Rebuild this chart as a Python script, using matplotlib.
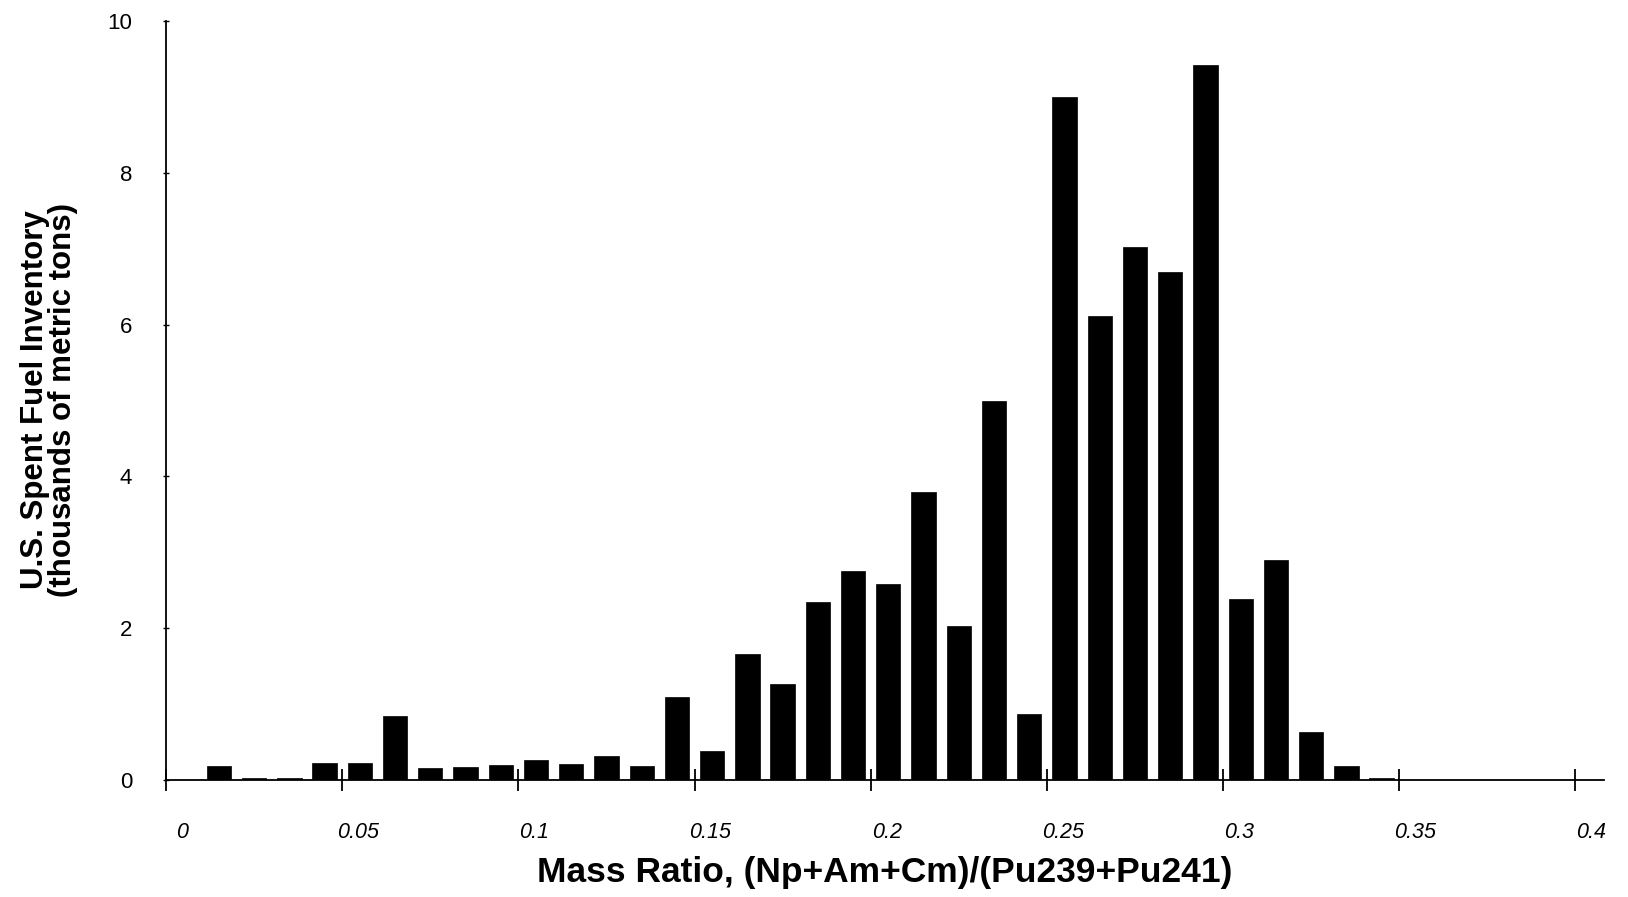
import numpy as np
import matplotlib
matplotlib.use("Agg")
import matplotlib.pyplot as plt
import matplotlib.transforms as mtransforms

plt.rcParams['font.family'] = ['Liberation Sans', 'DejaVu Sans']

# bin centres of mass ratio and inventory (thousands of metric tons)
ratio = [0.015, 0.025, 0.035, 0.045, 0.055, 0.065, 0.075, 0.085, 0.095, 0.105,
         0.115, 0.125, 0.135, 0.145, 0.155, 0.165, 0.175, 0.185, 0.195, 0.205,
         0.215, 0.225, 0.235, 0.245, 0.255, 0.265, 0.275, 0.285, 0.295, 0.305,
         0.315, 0.325, 0.335, 0.345]
inventory = [0.19, 0.03, 0.03, 0.22, 0.23, 0.85, 0.16, 0.17, 0.20, 0.27,
             0.21, 0.32, 0.18, 1.10, 0.38, 1.66, 1.26, 2.35, 2.75, 2.58,
             3.79, 2.03, 5.00, 0.87, 9.00, 6.12, 7.03, 6.70, 9.42, 2.39,
             2.90, 0.63, 0.19, 0.03]

xticks = [0, 0.05, 0.1, 0.15, 0.2, 0.25, 0.3, 0.35, 0.4]
xtick_labels = ['0', '0.05', '0.1', '0.15', '0.2', '0.25', '0.3', '0.35', '0.4']
yticks = [0, 2, 4, 6, 8, 10]

fig = plt.figure(figsize=(16.28, 8.97), dpi=100)
ax = fig.add_axes([0.102, 0.1304, 0.883, 0.846])

ax.bar(ratio, inventory, width=0.0069, color='black', edgecolor='black', linewidth=0.5)

ax.set_xlim(0, 0.408)
ax.set_ylim(0, 10)
ax.set_xticks(xticks)
ax.set_xticklabels(xtick_labels, fontsize=15.5, style='italic')
ax.set_yticks(yticks)
ax.set_yticklabels([str(v) for v in yticks], fontsize=16)

for side in ['top', 'right']:
    ax.spines[side].set_visible(False)
ax.spines['left'].set_linewidth(1.3)
ax.spines['bottom'].set_linewidth(1.3)

ax.tick_params(axis='x', direction='inout', length=16, width=1.3, pad=22)
ax.tick_params(axis='y', direction='inout', length=5, width=1.0, pad=22)

# shift x labels to the right like the original
offset = mtransforms.ScaledTranslation(16 / 100, 0, fig.dpi_scale_trans)
for lab in ax.get_xticklabels():
    lab.set_transform(lab.get_transform() + offset)

fig.text(0.5435, 0.027, 'Mass Ratio, (Np+Am+Cm)/(Pu239+Pu241)', ha='center', va='center',
         fontsize=25.5, fontweight='bold')
fig.text(0.030, 0.554, 'U.S. Spent Fuel Inventory\n(thousands of metric tons)', ha='center',
         va='center', rotation=90, fontsize=22.5, fontweight='bold', linespacing=0.9)

fig.savefig('out.png', dpi=100)
